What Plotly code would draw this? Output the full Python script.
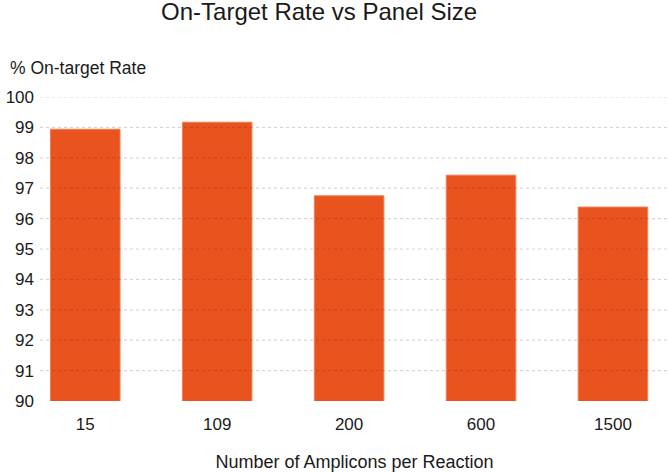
import plotly.graph_objects as go

# panel sizes and the on-target rate
panel_sizes = ["15", "109", "200", "600", "1500"]
on_target_rate = [98.94, 99.17, 96.75, 97.43, 96.38]
y_ticks = [90, 91, 92, 93, 94, 95, 96, 97, 98, 99, 100]

BAR_COLOR = "#E9531D"
TEXT_COLOR = "#1a1a1a"
FONT = "Liberation Sans, Arial, sans-serif"

fig = go.Figure()
fig.add_trace(go.Bar(
    x=panel_sizes,
    y=on_target_rate,
    width=0.527,
    marker=dict(color=BAR_COLOR, line=dict(color="#F07E55", width=1)),
    hoverinfo="x+y",
))

# dotted grid drawn on top of the bars, like the original
for t in y_ticks[1:]:
    fig.add_shape(type="line", xref="paper", x0=0, x1=1, yref="y", y0=t, y1=t,
                  line=dict(color="rgba(70,40,20,0.2)", width=1.2, dash="dot"),
                  layer="above")

fig.update_layout(
    width=669, height=472,
    margin=dict(l=40, r=0, t=97, b=71),
    paper_bgcolor="white", plot_bgcolor="white",
    font=dict(family=FONT, size=17, color=TEXT_COLOR),
    title=dict(text="On-Target Rate vs Panel Size", x=0.477, xanchor="center",
               yref="container", y=0.975, yanchor="middle",
               font=dict(size=24, color=TEXT_COLOR)),
    showlegend=False,
    bargap=0.47,
)
fig.update_xaxes(
    type="category", range=[-0.343, 4.425], automargin=False,
    showgrid=False, showline=False, zeroline=False, ticks="",
    ticklabelstandoff=11,
    title=dict(text="Number of Amplicons per Reaction", standoff=22,
               font=dict(size=18, color=TEXT_COLOR)),
)
fig.update_yaxes(
    range=[90, 100], tickvals=y_ticks, automargin=False,
    showgrid=False, showline=False, zeroline=False, ticks="",
    ticklabelstandoff=5,
)
fig.add_annotation(text="% On-target Rate", xref="paper", yref="paper",
                   x=-0.051, y=1.0, xanchor="left", yanchor="middle", yshift=29,
                   showarrow=False, font=dict(size=17.5, color=TEXT_COLOR))

# the page's default body margin would push the chart 8px off the window
fig.write_html("out.html", config={"displayModeBar": False},
               post_script="document.body.style.margin='0';")
